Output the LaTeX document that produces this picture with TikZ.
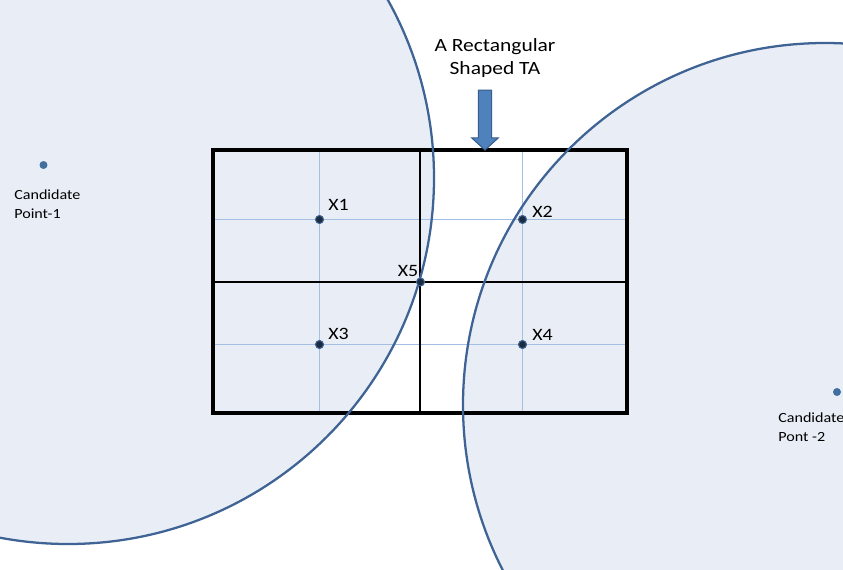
\documentclass[tikz,border=0pt]{standalone}
\usepackage{fontspec}
\setmainfont{Carlito}[FakeStretch=1.15]
\usetikzlibrary{shapes.arrows}
\definecolor{cfill}{HTML}{E9EEF6}
\definecolor{cline}{HTML}{3E6394}
\definecolor{gridb}{HTML}{A3BFE4}
\definecolor{dotc}{HTML}{1C2B40}
\definecolor{candc}{HTML}{41709F}
\definecolor{arrf}{HTML}{4F81BD}
\definecolor{arrd}{HTML}{385D8A}
\begin{document}
\begin{tikzpicture}[x=0.75pt,y=-0.75pt,
  zone/.style={fill=cfill},
  zoneline/.style={draw=cline,line width=1.7pt},
  thinline/.style={draw=gridb,line width=0.9pt},
  boldline/.style={draw=black,line width=1.8pt},
  outerline/.style={draw=black,line width=2.5pt},
  xdot/.style={circle,fill=dotc,draw=cline,line width=0.8pt,minimum size=6pt,inner sep=0pt},
  canddot/.style={circle,fill=candc,minimum size=6pt,inner sep=0pt},
  xlab/.style={inner sep=0pt,font=\fontsize{13}{15}\selectfont},
  candlab/.style={inner sep=0pt,align=left,anchor=north west,font=\fontsize{10.5}{13.8}\selectfont},
  titlelab/.style={inner sep=0pt,align=center,anchor=north,font=\fontsize{14}{17.3}\selectfont}
]
\clip (0,0) rectangle (843,569);
\fill[white] (0,0) rectangle (843,569);
% coverage zones
\coordinate (c1) at (68,178);
\coordinate (c2) at (825,405);
\fill[zone] (c1) circle[radius=274.5pt];
\fill[zone] (c2) circle[radius=271.5pt];
% grid coordinates
\coordinate (tl) at (213,150);
\coordinate (br) at (627,413);
\coordinate (h1a) at (213,219.5); \coordinate (h1b) at (627,219.5);
\coordinate (h2a) at (213,344.5); \coordinate (h2b) at (627,344.5);
\coordinate (v1a) at (319.5,150); \coordinate (v1b) at (319.5,413);
\coordinate (v2a) at (522.5,150); \coordinate (v2b) at (522.5,413);
\coordinate (hma) at (213,282); \coordinate (hmb) at (627,282);
\coordinate (vma) at (420,150); \coordinate (vmb) at (420,413);
% thin grid lines
\draw[thinline] (h1a) -- (h1b);
\draw[thinline] (h2a) -- (h2b);
\draw[thinline] (v1a) -- (v1b);
\draw[thinline] (v2a) -- (v2b);
% bold lines
\draw[boldline] (hma) -- (hmb);
\draw[boldline] (vma) -- (vmb);
\draw[outerline] (tl) rectangle (br);
% zone outlines
\draw[zoneline] (c1) circle[radius=274.5pt];
\draw[zoneline] (c2) circle[radius=271.5pt];
% points
\node[xdot] (x1) at (319.5,219.5) {};
\node[xdot] (x2) at (522.5,219.5) {};
\node[xdot] (x3) at (319.5,344.5) {};
\node[xdot] (x4) at (522.5,344.5) {};
\node[xdot] (x5) at (420.5,282) {};
\node[xlab,anchor=west] (lx1) at (328,205) {X1};
\node[xlab,anchor=west] (lx2) at (532,212) {X2};
\node[xlab,anchor=west] (lx3) at (328,334) {X3};
\node[xlab,anchor=west] (lx4) at (532,335) {X4};
\node[xlab,anchor=east] (lx5) at (418.5,270.5) {X5};
% candidate points
\node[canddot] (p1) at (43.5,165) {};
\node[canddot] (p2) at (837,392) {};
\node[candlab] (lp1) at (14,190) {Candidate\\Point-1};
\node[candlab] (lp2) at (778,413) {Candidate\\Pont -2};
% title and arrow
\node[titlelab] (title) at (495,38.5) {A Rectangular\\Shaped TA};
\node[single arrow,rotate=-90,fill=arrf,draw=arrd,line width=0.8pt,
      minimum height=45pt,
      single arrow head extend=4.9pt,single arrow tip angle=95,
      inner xsep=0pt,inner ysep=4.6pt] (arr) at (485,117) {};
\end{tikzpicture}
\end{document}
